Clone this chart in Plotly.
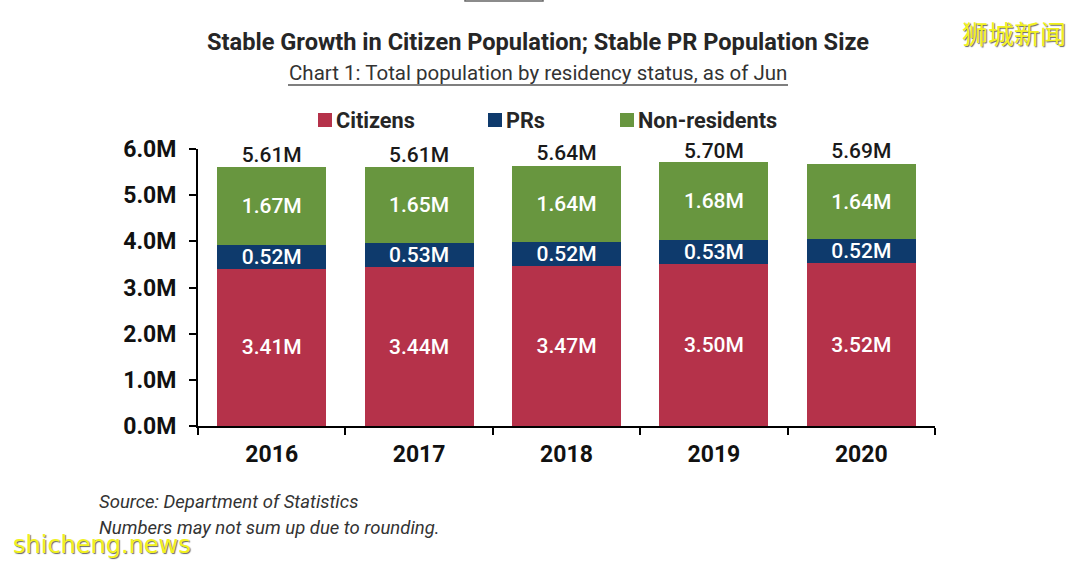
"""
Chart 1: Total population by residency status, as of Jun
"""

import plotly.graph_objects as go

# ─────────────────────────────────────────────
# 1. DATA
# ─────────────────────────────────────────────

years = ["2016", "2017", "2018", "2019", "2020"]
citizens = [3.41, 3.44, 3.47, 3.50, 3.52]
prs = [0.52, 0.53, 0.52, 0.53, 0.52]
non_residents = [1.67, 1.65, 1.64, 1.68, 1.64]
totals = [5.61, 5.61, 5.64, 5.70, 5.69]

y_ticks = [0, 1, 2, 3, 4, 5, 6]
y_tick_labels = ["0.0M", "1.0M", "2.0M", "3.0M", "4.0M", "5.0M", "6.0M"]

RED = "#B5324A"
NAVY = "#0E3A6C"
GREEN = "#68963F"
FONT = "Roboto"

# plot area in pixels, used to place the text around it
LEFT, RIGHT, TOP, BOTTOM = 198, 935, 149, 426


def px(x):
    return (x - LEFT) / (RIGHT - LEFT)


def py(y):
    return (BOTTOM - y) / (BOTTOM - TOP)


def fmt(values):
    return [f"{v:.2f}M" for v in values]


# ─────────────────────────────────────────────
# 2. BARS
# ─────────────────────────────────────────────

fig = go.Figure()

series = [
    ("Citizens", citizens, RED, 318),
    ("PRs", prs, NAVY, 488),
    ("Non-residents", non_residents, GREEN, 620),
]
for name, values, color, key_x in series:
    fig.add_trace(go.Bar(
        x=years, y=values, name=name,
        marker=dict(color=color, line_width=0),
        text=fmt(values), textposition="inside", insidetextanchor="middle",
        textangle=0, constraintext="none",
        insidetextfont=dict(family=FONT, size=21, color="white", weight=500),
        showlegend=False,
    ))
    # legend key, spaced as in the original
    fig.add_shape(type="rect", xref="paper", yref="paper",
                  x0=px(key_x), x1=px(key_x + 14), y0=py(113), y1=py(127),
                  fillcolor=color, line_width=0)
    fig.add_annotation(
        xref="paper", yref="paper", x=px(key_x + 16), y=py(120), text=f"<b>{name}</b>",
        showarrow=False, xanchor="left", yanchor="middle",
        font=dict(family=FONT, size=21.7, color="#262626"),
    )

# totals above the stacks
fig.add_trace(go.Scatter(
    x=years, y=totals, mode="text", text=fmt(totals), textposition="top center",
    textfont=dict(family=FONT, size=21, color="#1a1a1a", weight=500),
    showlegend=False, cliponaxis=False,
))

# ─────────────────────────────────────────────
# 3. TITLES, SOURCE, WATERMARKS
# ─────────────────────────────────────────────

texts = [
    (538, 42, "<b>Stable Growth in Citizen Population; Stable PR Population Size</b>", 23.6, "#262626", FONT, "center"),
    (538, 73, "Chart 1: Total population by residency status, as of Jun", 20.5, "#333333", FONT, "center"),
    (97, 502, "<i>Source: Department of Statistics</i>", 18.5, "#333333", FONT, "left"),
    (97, 528, "<i>Numbers may not sum up due to rounding.</i>", 18.5, "#333333", FONT, "left"),
]
for x, y, text, size, color, family, anchor in texts:
    fig.add_annotation(
        xref="paper", yref="paper", x=px(x), y=py(y), text=text, showarrow=False,
        xanchor=anchor, yanchor="middle",
        font=dict(family=family, size=size, color=color),
    )

# watermarks
fig.add_annotation(
    xref="paper", yref="paper", x=px(1014), y=py(32), text="狮城新闻", showarrow=False,
    xanchor="center", yanchor="middle",
    font=dict(family="Noto Sans CJK SC", size=26, color="#F2F21E", shadow="1px 1px 1px #666666"),
)
fig.add_annotation(
    xref="paper", yref="paper", x=px(102), y=py(545), text="shicheng.news", showarrow=False,
    xanchor="center", yanchor="middle",
    font=dict(family="DejaVu Sans", size=24, color="#F2F21E", shadow="1px 1px 1px #666666"),
)

# underline of the subtitle and the clipped button at the top of the page
fig.add_shape(type="line", xref="paper", yref="paper", x0=px(288), x1=px(788), y0=py(85), y1=py(85),
              line=dict(color="#555555", width=1.5))
fig.add_shape(type="rect", xref="paper", yref="paper", x0=px(465), x1=px(543), y0=py(-6), y1=py(1),
              line=dict(color="#666666", width=1.5))

# ─────────────────────────────────────────────
# 4. LAYOUT
# ─────────────────────────────────────────────

fig.update_layout(
    width=1080, height=565, autosize=False,
    margin=dict(l=LEFT, r=1080 - RIGHT, t=TOP, b=565 - BOTTOM, pad=0),
    barmode="stack", bargap=0.26,
    paper_bgcolor="white", plot_bgcolor="white",
)

fig.update_xaxes(
    type="category", showgrid=False, showline=True, linecolor="black", linewidth=2,
    ticks="outside", tickson="boundaries", ticklen=7, tickwidth=2, tickcolor="black",
    ticklabelstandoff=6,
    tickfont=dict(family=FONT, size=23, color="#111111", weight="bold"),
)
fig.update_yaxes(
    range=[0, 6], tickvals=y_ticks, ticktext=y_tick_labels, showgrid=False, zeroline=False,
    showline=True, linecolor="black", linewidth=2,
    ticks="outside", ticklen=7, tickwidth=2, tickcolor="black",
    ticklabelstandoff=8,
    tickfont=dict(family=FONT, size=23, color="#111111", weight="bold"),
)

# the page's default body margin would push the figure 8px off
fig.write_html("out.html", config={"displayModeBar": False},
               post_script="document.body.style.margin='0';")
